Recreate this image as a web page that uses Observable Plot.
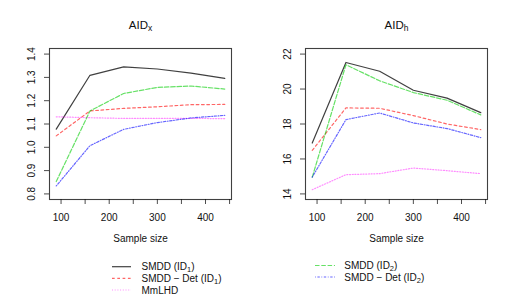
<!DOCTYPE html>
<html>
<head>
<meta charset="utf-8">
<script src="https://cdn.jsdelivr.net/npm/d3@7"></script>
<script src="https://cdn.jsdelivr.net/npm/@observablehq/plot@0.6"></script>
<style>
  html, body { margin: 0; padding: 0; background: #fff; }
  #wrap { position: relative; width: 513px; height: 297px; overflow: hidden; font-family: "Liberation Sans", Arial, sans-serif; }
</style>
</head>
<body>
<div id="wrap"></div>
<script>
// ---- data ----
const sampleSize = [90, 160, 230, 300, 370, 440];
const xTicks = [100, 150, 200, 250, 300, 350, 400, 450];

// AID_x panel
const aidxSMDD1    = [1.078, 1.309, 1.345, 1.336, 1.318, 1.296];
const aidxSMDDDet1 = [1.049, 1.156, 1.167, 1.174, 1.183, 1.184];
const aidxMmLHD    = [1.131, 1.127, 1.124, 1.124, 1.124, 1.123];
const aidxSMDD2    = [0.853, 1.156, 1.231, 1.257, 1.263, 1.250];
const aidxSMDDDet2 = [0.834, 1.007, 1.077, 1.106, 1.126, 1.137];
const aidxTicks = [0.8, 0.9, 1.0, 1.1, 1.2, 1.3, 1.4];

// AID_h panel
const aidhSMDD1    = [16.91, 21.52, 21.02, 19.93, 19.48, 18.65];
const aidhSMDDDet1 = [16.49, 18.92, 18.90, 18.48, 18.00, 17.68];
const aidhMmLHD    = [14.24, 15.10, 15.16, 15.48, 15.33, 15.16];
const aidhSMDD2    = [14.96, 21.39, 20.47, 19.80, 19.36, 18.52];
const aidhSMDDDet2 = [14.96, 18.25, 18.63, 18.06, 17.74, 17.22];
const aidhTicks = [14, 16, 18, 20, 22];

const seriesNames = ["SMDD (ID1)", "SMDD - Det (ID1)", "MmLHD", "SMDD (ID2)", "SMDD - Det (ID2)"];
const seriesColors = ["#000000", "#FF0000", "#FF00FF", "#00CD00", "#0000FF"];
const seriesOpacity = [0.75, 0.6, 0.45, 0.6, 0.6];
const seriesDash = [null, "2.7,2.6", "1,1.7", "4.5,1.8", "0.8,1.6,2.4,1.6"];

// ---- build ----
const font = "'Liberation Sans', Arial, sans-serif";
function panel(values, yDomain, yTicks, yFmt, left) {
  const rows = [];
  values.forEach((vals, s) => vals.forEach((v, i) => rows.push({s, x: sampleSize[i], y: v})));
  const marks = [
    Plot.frame({stroke: "#000", strokeOpacity: 0.75, strokeWidth: 1.1})
  ];
  values.forEach((vals, s) => {
    marks.push(Plot.line(rows.filter(r => r.s === s), {
      x: "x", y: "y", stroke: seriesColors[s], strokeWidth: 1.2, strokeOpacity: seriesOpacity[s],
      strokeDasharray: seriesDash[s] || undefined
    }));
  });
  marks.push(Plot.axisX({ticks: xTicks, tickFormat: d => d % 100 === 0 ? String(d) : "", tickSize: 5, tickPadding: 9, label: null, fontSize: 10, strokeOpacity: 0.75}));
  marks.push(Plot.axisY({ticks: yTicks, tickSize: 5, tickFormat: () => "", label: null, strokeOpacity: 0.75}));
  marks.push(Plot.text(yTicks, {y: d => d, text: d => yFmt(d), frameAnchor: "left", dx: -18, rotate: -90, textAnchor: "middle", lineAnchor: "middle", fontSize: 10}));
  marks.push(Plot.text(["Sample size"], {text: d => d, frameAnchor: "bottom", dy: 42, fontSize: 10}));
  const p = Plot.plot({
    width: 256, height: 250,
    marginLeft: 49, marginRight: 25, marginTop: 48, marginBottom: 51,
    x: {domain: [76, 454]},
    y: {domain: yDomain},
    style: {fontFamily: font, fontSize: "10px", background: "transparent", overflow: "visible", color: "#111"},
    marks
  });
  p.style.position = "absolute";
  p.style.left = left + "px";
  p.style.top = "0px";
  return p;
}

const wrap = document.getElementById("wrap");
wrap.appendChild(panel([aidxSMDD1, aidxSMDDDet1, aidxMmLHD, aidxSMDD2, aidxSMDDDet2], [0.776, 1.424], aidxTicks, d3.format(".1f"), 0));
wrap.appendChild(panel([aidhSMDD1, aidhSMDDDet1, aidhMmLHD, aidhSMDD2, aidhSMDDDet2], [13.68, 22.32], aidhTicks, d3.format("d"), 256));

// ---- overlay: titles and legend ----
const svg = d3.select(wrap).append("svg")
  .attr("width", 513).attr("height", 297)
  .style("position", "absolute").style("left", 0).style("top", 0)
  .style("font-family", font).attr("fill", "#111");

function title(x, sub) {
  const t = svg.append("text").attr("x", x).attr("y", 28.5).attr("text-anchor", "middle").attr("font-size", 11.5);
  t.append("tspan").text("AID");
  t.append("tspan").attr("font-size", 8.5).attr("dy", 2.5).text(sub);
}
title(140.5, "x");
title(396.5, "h");

function labelText(g, s, x, y) {
  const t = g.append("text").attr("x", x).attr("y", y + 3.5).attr("font-size", 10);
  const name = seriesNames[s];
  const m = name.match(/^(.*)\(ID(\d)\)$/);
  if (m) {
    t.append("tspan").text(m[1].replace(" - ", " \u2212 ") + "(ID");
    t.append("tspan").attr("font-size", 7.5).attr("dy", 2).text(m[2]);
    t.append("tspan").attr("dy", -2).text(")");
  } else {
    t.text(name);
  }
}
const legendLeft = [{s: 0, y: 266.7}, {s: 1, y: 278.3}, {s: 2, y: 290}];
const legendRight = [{s: 3, y: 265.5}, {s: 4, y: 277}];
function sample(s, x1, x2, y) {
  svg.append("line").attr("x1", x1).attr("x2", x2).attr("y1", y).attr("y2", y)
    .attr("stroke", seriesColors[s]).attr("stroke-width", 1.2).attr("stroke-opacity", seriesOpacity[s])
    .attr("stroke-dasharray", seriesDash[s]);
}
legendLeft.forEach(({s, y}) => { sample(s, 112, 131, y); labelText(svg, s, 141.5, y); });
legendRight.forEach(({s, y}) => { sample(s, 315, 335, y); labelText(svg, s, 344.3, y); });
</script>
</body>
</html>
